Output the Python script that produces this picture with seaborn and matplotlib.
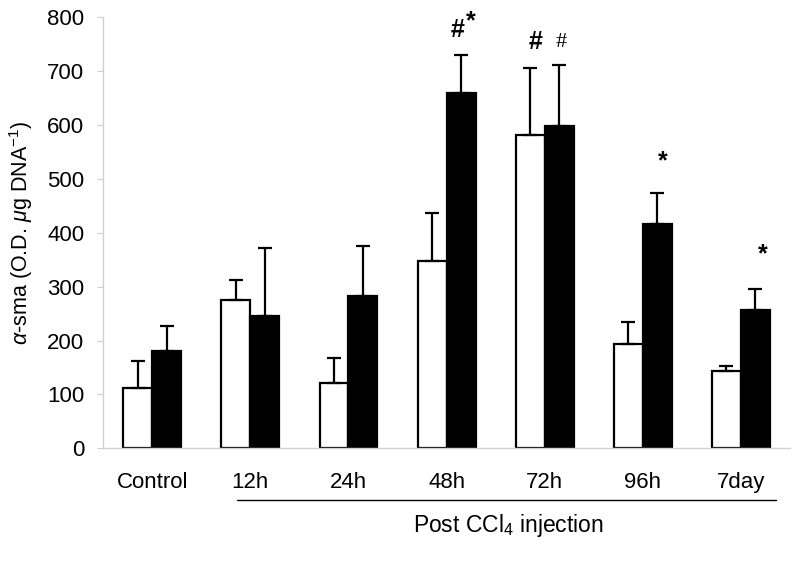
import numpy as np
import pandas as pd
import seaborn as sns
from matplotlib import pyplot as plt
import matplotlib.transforms as mtransforms

# values
times = ["Control", "12h", "24h", "48h", "72h", "96h", "7day"]
white_mean = [112, 276, 122, 348, 581, 194, 143]
white_err = [51, 37, 45, 89, 125, 41, 10]
black_mean = [181, 246, 283, 660, 598, 416, 256]
black_err = [47, 126, 92, 71, 113, 58, 40]

df = pd.DataFrame({
    "time": times * 2,
    "value": white_mean + black_mean,
    "group": ["white"] * len(times) + ["black"] * len(times),
})

sns.set_style("white")
plt.rcParams['font.family'] = ['Liberation Sans', 'DejaVu Sans']
plt.rcParams['mathtext.fontset'] = 'custom'
plt.rcParams['mathtext.rm'] = 'Liberation Sans'
plt.rcParams['mathtext.it'] = 'Liberation Sans:italic'
plt.rcParams['text.color'] = 'black'
plt.rcParams['axes.labelcolor'] = 'black'

fig = plt.figure(figsize=(8, 5.62), dpi=100)
ax = fig.add_axes([0.129, 0.2023, 0.8585, 0.7667])

sns.barplot(data=df, x="time", y="value", hue="group", order=times,
            hue_order=["white", "black"], palette=["white", "black"],
            edgecolor="black", linewidth=1.6, errorbar=None, width=0.59,
            gap=0, legend=False, ax=ax)

# upper-only error bars
for bars, errs in zip(ax.containers, [white_err, black_err]):
    xs = [b.get_x() + b.get_width() / 2 for b in bars]
    ys = [b.get_height() for b in bars]
    ax.errorbar(xs, ys, yerr=[np.zeros(len(errs)), errs], fmt="none",
                ecolor="black", elinewidth=1.6, capsize=5, capthick=1.6,
                zorder=1)

ax.set_ylim(0, 800)
ax.set_yticks(range(0, 801, 100))
ax.set_xlim(-0.5, 6.5)
ax.set_xlabel("")
ax.set_ylabel(r"$\alpha$-sma (O.D. $\mu$g DNA$^{-1}$)", fontsize=15.5)
ax.yaxis.set_label_coords(-0.100, 0.5)
ax.tick_params(axis="y", labelsize=16, length=4.5, color="#d0d0d0",
               labelcolor="black", pad=9, left=True)
ax.tick_params(axis="x", labelsize=16, length=0, pad=17, labelcolor="black")

for s in ["top", "right"]:
    ax.spines[s].set_visible(False)
for s in ["left", "bottom"]:
    ax.spines[s].set_color("#d0d0d0")
    ax.spines[s].set_linewidth(1)

# significance marks
ax.text(3.11, 777, "#", ha="center", va="center", fontsize=18, fontweight="bold")
ax.text(3.25, 792, "*", ha="center", va="center", fontsize=18, fontweight="bold")
ax.text(3.91, 755, "#", ha="center", va="center", fontsize=18, fontweight="bold")
ax.text(4.17, 753, "#", ha="center", va="center", fontsize=16, family="Liberation Serif")
ax.text(5.20, 532, "*", ha="center", va="center", fontsize=18, fontweight="bold")
ax.text(6.22, 360, "*", ha="center", va="center", fontsize=18, fontweight="bold")

# line under post-injection labels
trans = mtransforms.blended_transform_factory(ax.transData, ax.transAxes)
ax.plot([0.867, 6.36], [-0.121, -0.121], color="black", lw=1, transform=trans, clip_on=False)
ax.text(3.63, -0.179, r"Post CCl$_4$ injection", ha="center", va="center",
        fontsize=16.5, transform=trans)

plt.savefig("out.png", dpi=100)
